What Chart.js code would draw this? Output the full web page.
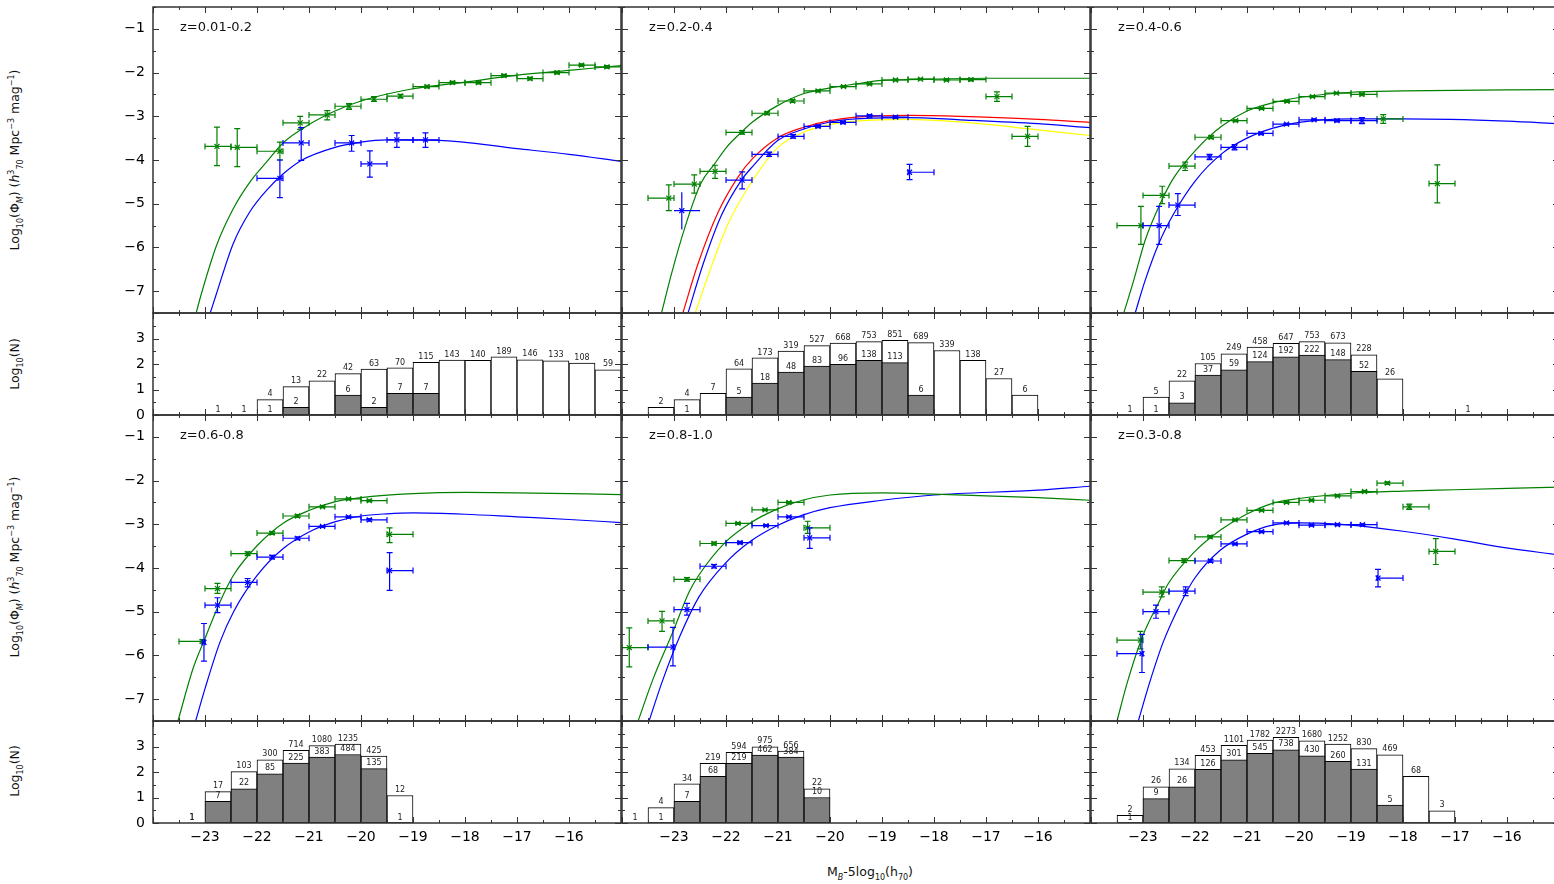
<!DOCTYPE html>
<html lang="en">
<head>
<meta charset="UTF-8">
<title>Luminosity functions by redshift</title>
<script src="https://cdn.jsdelivr.net/npm/chart.js"></script>
<style>
  body { margin: 0; background: #fff; width: 1554px; height: 884px; overflow: hidden; position: relative;
         font-family: "DejaVu Sans", sans-serif; color: #111; }
  canvas { position: absolute; }
  .title { position: absolute; white-space: nowrap; font-size: 12.5px; transform: translate(-50%, -50%); }
  .rot { transform: translate(-50%, -50%) rotate(-90deg); }
  sub, sup { font-size: 8px; }
</style>
</head>
<body>
<div class="title rot" style="left:16px; top:160px;">Log<sub>10</sub>(Φ<sub><i>M</i></sub>) (<i>h</i><sup>3</sup><sub>70</sub> Mpc<sup>−3</sup> mag<sup>−1</sup>)</div>
<div class="title rot" style="left:16px; top:567px;">Log<sub>10</sub>(Φ<sub><i>M</i></sub>) (<i>h</i><sup>3</sup><sub>70</sub> Mpc<sup>−3</sup> mag<sup>−1</sup>)</div>
<div class="title rot" style="left:16px; top:364px;">Log<sub>10</sub>(N)</div>
<div class="title rot" style="left:16px; top:771px;">Log<sub>10</sub>(N)</div>
<div class="title" style="left:870px; top:873px;">M<sub><i>B</i></sub>-5log<sub>10</sub>(h<sub>70</sub>)</div>
<script>
// magnitude bins of the histograms (centres, 0.5 mag wide)
const binCentres = [-23.75, -23.25, -22.75, -22.25, -21.75, -21.25, -20.75, -20.25, -19.75,
                    -19.25, -18.75, -18.25, -17.75, -17.25, -16.75, -16.25, -15.75, -15.25];

const panelLabels = ['z=0.01-0.2', 'z=0.2-0.4', 'z=0.4-0.6', 'z=0.6-0.8', 'z=0.8-1.0', 'z=0.3-0.8'];

// tick values
const magTicks = [-23, -22, -21, -20, -19, -18, -17, -16];
const phiTicks = [-7, -6, -5, -4, -3, -2, -1];
const countTicks = [0, 1, 2, 3];

// measured LF points: [M, logPhi, Mlo, Mhi, logPhiLo, logPhiHi, caps?]
const p1Green = [[-22.77,-3.69,-23.0,-22.5,-4.13,-3.25],[-22.38,-3.71,-22.5,-22.0,-4.15,-3.28],
  [-21.56,-3.80,-22.0,-21.5,-4.00,-3.59],[-21.17,-3.15,-21.5,-21.0,-3.30,-3.00],
  [-20.65,-2.97,-21.0,-20.5,-3.08,-2.87],[-20.23,-2.77,-20.5,-20.0,-2.84,-2.71],
  [-19.75,-2.61,-20.0,-19.5,-2.66,-2.55],[-19.24,-2.54,-19.5,-19.0,-2.58,-2.50],
  [-18.73,-2.32,-19.0,-18.5,-2.35,-2.29],[-18.24,-2.23,-18.5,-18.0,-2.26,-2.20],
  [-17.74,-2.23,-18.0,-17.5,-2.26,-2.20],[-17.25,-2.07,-17.5,-17.0,-2.10,-2.04],
  [-16.75,-2.14,-17.0,-16.5,-2.17,-2.11],[-16.23,-2.00,-16.5,-16.0,-2.03,-1.97],
  [-15.76,-1.83,-16.0,-15.5,-1.86,-1.80],[-15.27,-1.87,-15.5,-15.0,-1.90,-1.84]];
const p1Blue = [[-21.56,-4.42,-22.0,-21.5,-4.86,-4.00],[-21.15,-3.61,-21.5,-21.0,-4.01,-3.26],
  [-20.18,-3.61,-20.5,-20.0,-3.80,-3.44],[-19.83,-4.09,-20.0,-19.5,-4.39,-3.79],
  [-19.31,-3.54,-19.5,-19.0,-3.71,-3.38],[-18.76,-3.54,-19.0,-18.5,-3.71,-3.38]];

const p2Green = [[-23.10,-4.87,-23.5,-23.0,-5.16,-4.57],[-22.61,-4.55,-23.0,-22.5,-4.76,-4.34],
  [-22.21,-4.26,-22.5,-22.0,-4.42,-4.12],[-21.69,-3.37,-22.0,-21.5,-3.41,-3.33],
  [-21.21,-2.93,-21.5,-21.0,-2.96,-2.90],[-20.72,-2.65,-21.0,-20.5,-2.68,-2.62],
  [-20.23,-2.42,-20.5,-20.0,-2.44,-2.40],[-19.74,-2.32,-20.0,-19.5,-2.34,-2.30],
  [-19.24,-2.26,-19.5,-19.0,-2.28,-2.24],[-18.74,-2.17,-19.0,-18.5,-2.19,-2.15],
  [-18.26,-2.15,-18.5,-18.0,-2.17,-2.13],[-17.76,-2.17,-18.0,-17.5,-2.19,-2.15],
  [-17.29,-2.16,-17.5,-17.0,-2.19,-2.13],[-16.79,-2.55,-17.0,-16.5,-2.66,-2.44],
  [-16.20,-3.46,-16.5,-16.0,-3.69,-3.23]];
const p2Blue = [[-22.85,-5.16,-23.0,-22.5,-5.59,-4.74,false],[-21.69,-4.46,-22.0,-21.5,-4.66,-4.27],
  [-21.17,-3.87,-21.5,-21.0,-3.92,-3.82],[-20.71,-3.46,-21.0,-20.5,-3.50,-3.42],
  [-20.23,-3.23,-20.5,-20.0,-3.26,-3.20],[-19.75,-3.14,-20.0,-19.5,-3.17,-3.11],
  [-19.24,-2.99,-19.5,-19.0,-3.02,-2.96],[-18.74,-3.02,-19.0,-18.5,-3.05,-2.99],
  [-18.47,-4.28,-18.5,-18.0,-4.45,-4.10]];

const p3Green = [[-23.04,-5.50,-23.5,-23.0,-5.93,-5.06],[-22.63,-4.81,-23.0,-22.5,-5.00,-4.60],
  [-22.19,-4.14,-22.5,-22.0,-4.24,-4.05],[-21.69,-3.48,-22.0,-21.5,-3.51,-3.45],
  [-21.22,-3.10,-21.5,-21.0,-3.12,-3.08],[-20.72,-2.82,-21.0,-20.5,-2.84,-2.80],
  [-20.23,-2.66,-20.5,-20.0,-2.68,-2.64],[-19.74,-2.55,-20.0,-19.5,-2.57,-2.53],
  [-19.28,-2.47,-19.5,-19.0,-2.49,-2.45],[-18.79,-2.50,-19.0,-18.5,-2.53,-2.47],
  [-18.38,-3.06,-18.5,-18.0,-3.16,-2.96],[-17.34,-4.54,-17.5,-17.0,-4.98,-4.11]];
const p3Blue = [[-22.69,-5.50,-23.0,-22.5,-5.93,-5.06],[-22.33,-5.03,-22.5,-22.0,-5.27,-4.77],
  [-21.72,-3.93,-22.0,-21.5,-3.99,-3.87],[-21.24,-3.71,-21.5,-21.0,-3.77,-3.65],
  [-20.73,-3.39,-21.0,-20.5,-3.42,-3.36],[-20.24,-3.18,-20.5,-20.0,-3.20,-3.16],
  [-19.71,-3.08,-20.0,-19.5,-3.10,-3.06],[-19.27,-3.10,-19.5,-19.0,-3.13,-3.07],
  [-18.79,-3.10,-19.0,-18.5,-3.17,-3.03]];

const p4Green = [[-23.05,-5.68,-23.5,-23.0,-5.72,-5.64],[-22.76,-4.47,-23.0,-22.5,-4.58,-4.35],
  [-22.18,-3.67,-22.5,-22.0,-3.71,-3.63],[-21.71,-3.20,-22.0,-21.5,-3.23,-3.17],
  [-21.22,-2.81,-21.5,-21.0,-2.84,-2.78],[-20.74,-2.60,-21.0,-20.5,-2.62,-2.58],
  [-20.24,-2.42,-20.5,-20.0,-2.44,-2.40],[-19.84,-2.46,-20.0,-19.5,-2.48,-2.44],
  [-19.45,-3.23,-19.5,-19.0,-3.42,-3.08]];
const p4Blue = [[-23.02,-5.70,-23.05,-23.0,-6.13,-5.27],[-22.76,-4.85,-23.0,-22.5,-5.02,-4.68],
  [-22.18,-4.33,-22.5,-22.0,-4.43,-4.24],[-21.71,-3.75,-22.0,-21.5,-3.79,-3.71],
  [-21.22,-3.32,-21.5,-21.0,-3.35,-3.29],[-20.74,-3.05,-21.0,-20.5,-3.07,-3.03],
  [-20.24,-2.83,-20.5,-20.0,-2.85,-2.81],[-19.84,-2.90,-20.0,-19.5,-2.93,-2.87],
  [-19.45,-4.06,-19.5,-19.0,-4.51,-3.65]];

const p5Green = [[-23.86,-5.82,-24.0,-23.5,-6.26,-5.37],[-23.23,-5.21,-23.5,-23.0,-5.45,-4.99],
  [-22.75,-4.26,-23.0,-22.5,-4.30,-4.22],[-22.23,-3.44,-22.5,-22.0,-3.47,-3.41],
  [-21.77,-2.98,-22.0,-21.5,-3.00,-2.96],[-21.25,-2.67,-21.5,-21.0,-2.69,-2.65],
  [-20.79,-2.50,-21.0,-20.5,-2.52,-2.48],[-20.43,-3.08,-20.5,-20.0,-3.21,-2.93]];
const p5Blue = [[-23.02,-5.81,-23.5,-23.0,-6.24,-5.36],[-22.75,-4.95,-23.0,-22.5,-5.08,-4.81],
  [-22.23,-3.96,-22.5,-22.0,-4.00,-3.92],[-21.73,-3.42,-22.0,-21.5,-3.45,-3.39],
  [-21.23,-3.03,-21.5,-21.0,-3.05,-3.01],[-20.79,-2.83,-21.0,-20.5,-2.85,-2.81],
  [-20.39,-3.31,-20.5,-20.0,-3.55,-3.08]];

const p6Green = [[-23.05,-5.65,-23.5,-23.0,-5.85,-5.45],[-22.64,-4.55,-23.0,-22.5,-4.66,-4.43],
  [-22.21,-3.83,-22.5,-22.0,-3.87,-3.79],[-21.71,-3.29,-22.0,-21.5,-3.32,-3.26],
  [-21.23,-2.90,-21.5,-21.0,-2.92,-2.88],[-20.72,-2.68,-21.0,-20.5,-2.70,-2.66],
  [-20.24,-2.50,-20.5,-20.0,-2.52,-2.48],[-19.76,-2.45,-20.0,-19.5,-2.47,-2.43],
  [-19.26,-2.35,-19.5,-19.0,-2.37,-2.33],[-18.74,-2.25,-19.0,-18.5,-2.27,-2.23],
  [-18.30,-2.06,-18.5,-18.0,-2.09,-2.03],[-17.88,-2.60,-18.0,-17.5,-2.66,-2.54],
  [-17.37,-3.62,-17.5,-17.0,-3.92,-3.33]];
const p6Blue = [[-23.02,-5.96,-23.5,-23.0,-6.39,-5.52],[-22.75,-5.00,-23.0,-22.5,-5.15,-4.85],
  [-22.18,-4.53,-22.5,-22.0,-4.63,-4.43],[-21.70,-3.84,-22.0,-21.5,-3.87,-3.81],
  [-21.23,-3.45,-21.5,-21.0,-3.47,-3.43],[-20.72,-3.17,-21.0,-20.5,-3.19,-3.15],
  [-20.24,-2.97,-20.5,-20.0,-2.99,-2.95],[-19.76,-3.02,-20.0,-19.5,-3.04,-3.00],
  [-19.26,-3.01,-19.5,-19.0,-3.03,-2.99],[-18.78,-3.01,-19.0,-18.5,-3.03,-2.99],
  [-18.48,-4.23,-18.5,-18.0,-4.43,-4.03]];

// fitted Schechter curves, sampled [M, logPhi]
const p1GreenFit = [[-23.17,-7.5],[-23.07,-7.06],[-22.78,-5.96],[-22.46,-5.12],[-22.14,-4.51],[-21.79,-4.01],
  [-21.5,-3.61],[-21,-3.19],[-20.5,-2.88],[-20,-2.65],[-19,-2.37],[-18,-2.22],[-17,-2.06],[-16,-1.95],[-15,-1.84]];
const p1BlueFit = [[-22.9,-7.5],[-22.78,-7.06],[-22.46,-5.92],[-22.14,-5.19],[-21.79,-4.66],[-21.5,-4.32],
  [-21.15,-4.01],[-20.5,-3.71],[-20,-3.59],[-19.5,-3.54],[-18.5,-3.55],[-17,-3.74],[-16,-3.87],[-15,-4.03]];
const p2GreenFit = [[-23.24,-7.5],[-23.05,-6.61],[-22.79,-5.54],[-22.49,-4.55],[-22.22,-4.09],[-21.99,-3.71],
  [-21.71,-3.37],[-21.49,-3.13],[-21,-2.75],[-20.5,-2.48],[-20,-2.35],[-19.5,-2.26],[-19,-2.18],[-18,-2.15],
  [-17,-2.13],[-15,-2.13]];
const p2RedFit = [[-22.83,-7.5],[-22.54,-6.38],[-22.15,-5.19],[-21.77,-4.39],[-21.49,-3.97],[-21,-3.49],
  [-20.5,-3.25],[-20,-3.1],[-19.5,-3.02],[-18.5,-2.98],[-17.5,-3.0],[-16,-3.07],[-15,-3.14]];
const p2BlueFit = [[-22.73,-7.5],[-22.44,-6.38],[-22.09,-5.27],[-21.71,-4.47],[-21.49,-4.15],[-21,-3.55],
  [-20.5,-3.29],[-20,-3.13],[-19.5,-3.06],[-18.5,-3.03],[-17.5,-3.08],[-16,-3.17],[-15,-3.26]];
const p2YellowFit = [[-22.59,-7.5],[-22.31,-6.53],[-21.96,-5.46],[-21.49,-4.47],[-21,-3.71],[-20.5,-3.36],
  [-20,-3.19],[-19.5,-3.11],[-18.5,-3.07],[-17.5,-3.13],[-16,-3.31],[-15,-3.44]];
const p3GreenFit = [[-23.37,-7.5],[-23.18,-6.76],[-22.96,-5.84],[-22.67,-5.0],[-22.41,-4.41],[-21.99,-3.78],
  [-21.49,-3.23],[-21,-2.88],[-20.5,-2.69],[-20,-2.57],[-19,-2.45],[-18,-2.42],[-15,-2.39]];
const p3BlueFit = [[-23.15,-7.5],[-22.96,-6.76],[-22.7,-5.92],[-22.41,-5.23],[-21.99,-4.47],[-21.49,-3.86],
  [-21,-3.5],[-20.5,-3.27],[-20,-3.14],[-19,-3.06],[-18,-3.06],[-16,-3.11],[-15,-3.17]];
const p4GreenFit = [[-23.52,-7.5],[-23.23,-6.3],[-23,-5.61],[-22.71,-4.77],[-22.45,-4.16],[-21.99,-3.48],
  [-21.49,-2.97],[-20.99,-2.68],[-20.49,-2.48],[-20,-2.39],[-19,-2.3],[-18,-2.27],[-17,-2.28],[-15,-2.32]];
const p4BlueFit = [[-23.18,-7.5],[-23,-6.76],[-22.71,-5.69],[-22.45,-5.0],[-21.99,-4.16],[-21.49,-3.55],
  [-20.99,-3.17],[-20.49,-2.94],[-20,-2.81],[-19.5,-2.76],[-19,-2.74],[-18,-2.77],[-17,-2.83],[-16,-2.89],[-15,-2.96]];
const p5GreenFit = [[-23.69,-7.5],[-23.4,-6.53],[-23.02,-5.46],[-22.71,-4.55],[-22.52,-4.16],[-22.02,-3.42],
  [-21.53,-2.97],[-21.03,-2.66],[-20.53,-2.45],[-20,-2.33],[-19,-2.28],[-18,-2.31],[-16,-2.39],[-15,-2.45]];
const p5BlueFit = [[-23.48,-7.5],[-23.23,-6.61],[-22.88,-5.54],[-22.52,-4.66],[-22.02,-3.9],[-21.53,-3.39],
  [-21.03,-3.04],[-20.53,-2.79],[-20,-2.62],[-19,-2.45],[-18,-2.33],[-16,-2.22],[-15,-2.13]];
const p6GreenFit = [[-23.5,-7.5],[-23.3,-6.61],[-23,-5.54],[-22.69,-4.77],[-22.51,-4.35],[-22.01,-3.63],
  [-21.51,-3.13],[-21.01,-2.77],[-20.51,-2.52],[-20,-2.41],[-19,-2.29],[-18,-2.24],[-17,-2.21],[-15,-2.15]];
const p6BlueFit = [[-23.09,-7.5],[-22.87,-6.61],[-22.61,-5.69],[-22.26,-4.77],[-22.01,-4.24],[-21.51,-3.59],
  [-21.01,-3.23],[-20.51,-3.02],[-20,-2.97],[-19.52,-2.98],[-19,-3.02],[-18,-3.16],[-17,-3.34],[-16.08,-3.53],[-15,-3.7]];

// galaxy counts per bin: all galaxies and the measured subset
const p1AllN = [null,null,1,1,4,13,22,42,63,70,115,143,140,189,146,133,108,59];
const p1SubN = [null,null,null,null,1,2,null,6,2,7,7,null,null,null,null,null,null,null];
const p2AllN = [null,2,4,7,64,173,319,527,668,753,851,689,339,138,27,6,null,null];
const p2SubN = [null,null,1,null,5,18,48,83,96,138,113,6,null,null,null,null,null,null];
const p3AllN = [null,1,5,22,105,249,458,647,753,673,228,26,null,null,1,null,null,null];
const p3SubN = [null,null,1,3,37,59,124,192,222,148,52,null,null,null,null,null,null,null];
const p4AllN = [null,1,17,103,300,714,1080,1235,425,12,null,null,null,null,null,null,null,null];
const p4SubN = [null,1,7,22,85,225,383,484,135,1,null,null,null,null,null,null,null,null];
const p5AllN = [1,4,34,219,594,975,656,22,null,null,null,null,null,null,null,null,null,null];
const p5SubN = [null,1,7,68,219,462,384,10,null,null,null,null,null,null,null,null,null,null];
const p6AllN = [null,2,26,134,453,1101,1782,2273,1680,1252,830,469,68,3,null,null,null,null];
const p6SubN = [null,1,9,26,126,301,545,738,430,260,131,5,null,null,null,null,null,null];

// ---- layout ----
const colLeft = [153, 622, 1091];
const rowTop = [7, 415];
const panelW = 468, lfH = 306, histH = 102;
const yAxisW = 60, xAxisH = 34, pad = 24;
const GREEN = '#008000', BLUE = '#0000ff', RED = '#ff0000', YELLOW = '#ffff00';
const tickFont = { family: 'DejaVu Sans', size: 14 };

Chart.defaults.animation = false;
Chart.defaults.font.family = 'DejaVu Sans';

// frame, inward ticks on all four sides and the panel label
const frameTicks = {
  id: 'frameTicks',
  afterDraw(chart, args, opts) {
    const { ctx, chartArea: a, scales: { x, y } } = chart;
    ctx.save();
    ctx.strokeStyle = '#333';
    ctx.lineWidth = 1;
    ctx.beginPath();
    for (let v = x.min; v <= x.max + 1e-6; v += 0.5) {
      const px = Math.round(x.getPixelForValue(v)) + 0.5;
      const len = Math.abs(v % 1) < 1e-6 ? 6 : 3;
      ctx.moveTo(px, a.top); ctx.lineTo(px, a.top + len);
      ctx.moveTo(px, a.bottom); ctx.lineTo(px, a.bottom - len);
    }
    for (let v = y.min; v <= y.max + 1e-6; v += 0.5) {
      const py = Math.round(y.getPixelForValue(v)) + 0.5;
      const len = Math.abs(v % 1) < 1e-6 ? 6 : 3;
      ctx.moveTo(a.left, py); ctx.lineTo(a.left + len, py);
      ctx.moveTo(a.right, py); ctx.lineTo(a.right - len, py);
    }
    ctx.stroke();
    ctx.lineWidth = 1.5;
    ctx.strokeRect(a.left, a.top, a.right - a.left, a.bottom - a.top);
    if (opts.label) {
      ctx.fillStyle = '#111';
      ctx.font = '13px "DejaVu Sans"';
      ctx.textBaseline = 'middle';
      ctx.fillText(opts.label, a.left + 27, a.top + 21);
    }
    ctx.restore();
  }
};

// horizontal bin bars and vertical errors for the measured points
const errorBars = {
  id: 'errorBars',
  afterDatasetsDraw(chart) {
    const { ctx, chartArea: a, scales: { x, y } } = chart;
    ctx.save();
    ctx.beginPath();
    ctx.rect(a.left, a.top, a.right - a.left, a.bottom - a.top);
    ctx.clip();
    chart.data.datasets.forEach(ds => {
      if (!ds.errs) return;
      ctx.strokeStyle = ds.borderColor;
      ctx.lineWidth = 1.2;
      ds.errs.forEach(e => {
        const [m, v, xlo, xhi, ylo, yhi, caps] = e;
        const px = x.getPixelForValue(m), py = y.getPixelForValue(v);
        const x0 = x.getPixelForValue(xlo), x1 = x.getPixelForValue(xhi);
        const y0 = y.getPixelForValue(ylo), y1 = y.getPixelForValue(yhi);
        const c = caps === false ? 0 : 3;
        ctx.beginPath();
        ctx.moveTo(x0, py); ctx.lineTo(x1, py);
        ctx.moveTo(px, y0); ctx.lineTo(px, y1);
        if (c) {
          ctx.moveTo(x0, py - c); ctx.lineTo(x0, py + c);
          ctx.moveTo(x1, py - c); ctx.lineTo(x1, py + c);
          ctx.moveTo(px - c, y0); ctx.lineTo(px + c, y0);
          ctx.moveTo(px - c, y1); ctx.lineTo(px + c, y1);
        }
        ctx.stroke();
      });
    });
    ctx.restore();
  }
};

// count written above each histogram bar
const countLabels = {
  id: 'countLabels',
  afterDatasetsDraw(chart) {
    const { ctx } = chart;
    ctx.save();
    ctx.font = '8px "DejaVu Sans"';
    ctx.fillStyle = '#222';
    ctx.textAlign = 'center';
    ctx.textBaseline = 'bottom';
    chart.data.datasets.forEach((ds, i) => {
      const meta = chart.getDatasetMeta(i);
      meta.data.forEach((bar, j) => {
        ctx.fillText(String(ds.counts[j]), bar.x, bar.y - 1.5);
      });
    });
    ctx.restore();
  }
};

function addCanvas(left, top, w, h) {
  const c = document.createElement('canvas');
  c.width = w; c.height = h;
  c.style.left = left + 'px';
  c.style.top = top + 'px';
  c.style.width = w + 'px';
  c.style.height = h + 'px';
  document.body.appendChild(c);
  return c;
}

function minusLabel(v) {
  return v < 0 ? '\u2212' + Math.abs(v) : String(v);
}

function buildPanel(col, row, kind, type, datasets, label) {
  const isHist = kind === 'hist';
  const first = col === 0;
  const last = isHist && row === 1;
  const areaTop = rowTop[row] + (isHist ? lfH : 0);
  const areaH = isHist ? histH : lfH;
  const leftM = first ? yAxisW : pad;
  const botM = last ? xAxisH : pad;
  const yTicks = isHist ? countTicks : phiTicks;
  const canvas = addCanvas(colLeft[col] - leftM, areaTop - pad, leftM + panelW + pad, pad + areaH + botM);
  return new Chart(canvas, {
    type,
    data: { datasets },
    plugins: [frameTicks, isHist ? countLabels : errorBars],
    options: {
      responsive: false,
      devicePixelRatio: 1,
      layout: { padding: { left: first ? 0 : pad, right: pad, top: pad, bottom: last ? 0 : pad } },
      plugins: { legend: { display: false }, tooltip: { enabled: false }, frameTicks: { label } },
      scales: {
        x: {
          type: 'linear', min: -24, max: -15, offset: false, display: last,
          afterFit: last ? (s => { s.height = xAxisH; }) : undefined,
          afterBuildTicks: s => { s.ticks = magTicks.map(v => ({ value: v })); },
          grid: { display: false, drawTicks: false }, border: { display: false },
          ticks: { autoSkip: false, maxRotation: 0, padding: 6, color: '#000', font: tickFont,
                   callback: v => minusLabel(v) }
        },
        y: {
          type: 'linear', display: first,
          min: isHist ? 0 : -7.5, max: isHist ? 4 : -0.5,
          afterFit: first ? (s => { s.width = yAxisW; }) : undefined,
          afterBuildTicks: s => { s.ticks = yTicks.map(v => ({ value: v })); },
          grid: { display: false, drawTicks: false }, border: { display: false },
          ticks: { padding: 8, color: '#000', font: tickFont, callback: v => minusLabel(v) }
        }
      }
    }
  });
}

function pts(list) { return list.map(p => ({ x: p[0], y: p[1] })); }

function curve(list, color) {
  return { data: pts(list), borderColor: color, borderWidth: 1.2, pointRadius: 0,
           showLine: true, cubicInterpolationMode: 'monotone', fill: false };
}

function markers(list, color) {
  return { data: pts(list), errs: list, borderColor: color, backgroundColor: color, showLine: false,
           pointStyle: 'crossRot', pointRadius: 3.5, borderWidth: 1.2 };
}

function histSets(allN, subN) {
  const make = (counts, fill) => {
    const data = [], shown = [];
    counts.forEach((n, i) => {
      if (n == null) return;
      data.push({ x: binCentres[i], y: Math.log10(n) });
      shown.push(n);
    });
    return { data, counts: shown, backgroundColor: fill, borderColor: '#000', borderWidth: 1,
             borderSkipped: false, barPercentage: 1, categoryPercentage: 1, grouped: false };
  };
  // subset first so it is painted over the white bars
  return [make(subN, '#808080'), make(allN, '#ffffff')];
}

const lfSets = [
  [markers(p1Green, GREEN), markers(p1Blue, BLUE), curve(p1GreenFit, GREEN), curve(p1BlueFit, BLUE)],
  [markers(p2Green, GREEN), markers(p2Blue, BLUE), curve(p2GreenFit, GREEN), curve(p2RedFit, RED),
   curve(p2BlueFit, BLUE), curve(p2YellowFit, YELLOW)],
  [markers(p3Green, GREEN), markers(p3Blue, BLUE), curve(p3GreenFit, GREEN), curve(p3BlueFit, BLUE)],
  [markers(p4Green, GREEN), markers(p4Blue, BLUE), curve(p4GreenFit, GREEN), curve(p4BlueFit, BLUE)],
  [markers(p5Green, GREEN), markers(p5Blue, BLUE), curve(p5GreenFit, GREEN), curve(p5BlueFit, BLUE)],
  [markers(p6Green, GREEN), markers(p6Blue, BLUE), curve(p6GreenFit, GREEN), curve(p6BlueFit, BLUE)]
];
const histData = [[p1AllN, p1SubN], [p2AllN, p2SubN], [p3AllN, p3SubN],
                  [p4AllN, p4SubN], [p5AllN, p5SubN], [p6AllN, p6SubN]];

for (let k = 0; k < 6; k++) {
  const col = k % 3, row = Math.floor(k / 3);
  buildPanel(col, row, 'lf', 'line', lfSets[k], panelLabels[k]);
  buildPanel(col, row, 'hist', 'bar', histSets(histData[k][0], histData[k][1]), null);
}
</script>
</body>
</html>
